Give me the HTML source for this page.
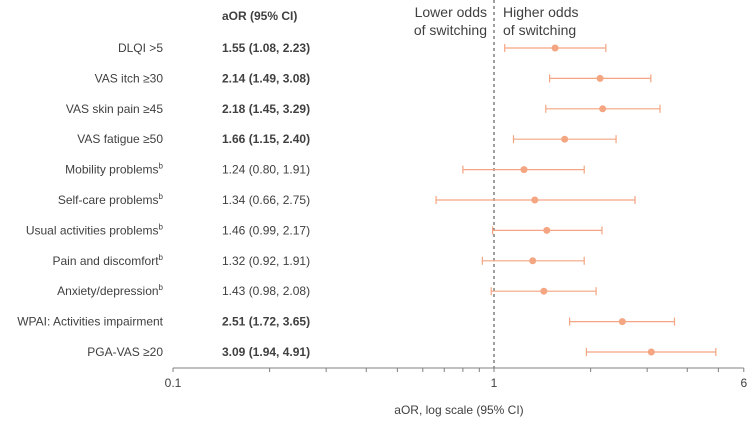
<!DOCTYPE html>
<html><head><meta charset="utf-8"><style>
body{margin:0;background:#fff;font-family:"Liberation Sans",sans-serif;}
svg text{font-family:"Liberation Sans",sans-serif;fill:#404040;}
</style></head><body>
<svg id="c" width="750" height="421" xmlns="http://www.w3.org/2000/svg">
<text x="222" y="20" font-size="12" font-weight="bold">aOR (95% CI)</text>
<text x="487" y="17" font-size="14" text-anchor="end"><tspan x="487">Lower odds</tspan><tspan x="487" dy="18">of switching</tspan></text>
<text x="503" y="17" font-size="14"><tspan x="503">Higher odds</tspan><tspan x="503" dy="18">of switching</tspan></text>
<g id="rows"></g>
<text x="459" y="414" font-size="12" text-anchor="middle">aOR, log scale (95% CI)</text>
</svg>
<script>
const labels=["DLQI >5","VAS itch \u226530","VAS skin pain \u226545","VAS fatigue \u226550","Mobility problems","Self-care problems","Usual activities problems","Pain and discomfort","Anxiety/depression","WPAI: Activities impairment","PGA-VAS \u226520"];
const sup=[0,0,0,0,1,1,1,1,1,0,0];
const est=[1.55,2.14,2.18,1.66,1.24,1.34,1.46,1.32,1.43,2.51,3.09];
const lo=[1.08,1.49,1.45,1.15,0.80,0.66,0.99,0.92,0.98,1.72,1.94];
const hi=[2.23,3.08,3.29,2.40,1.91,2.75,2.17,1.91,2.08,3.65,4.91];
const sig=[1,1,1,1,0,0,0,0,0,1,1];
const ticks=[0.1,0.2,0.3,0.4,0.5,0.6,0.7,0.8,0.9,1,2,3,4,5,6];
const tickLabels=["0.1","1","6"];
const svg=document.getElementById('c'),g=document.getElementById('rows');
const NS="http://www.w3.org/2000/svg";
const X=v=>494+321*Math.log10(v);
const Y=i=>48+i*30.4;
function mk(t,a,p){const e=document.createElementNS(NS,t);for(const k in a)e.setAttribute(k,a[k]);(p||g).appendChild(e);return e;}
const f=v=>v.toFixed(2);
let d=mk('line',{x1:494,x2:494,y1:0,y2:368,stroke:'#404040','stroke-dasharray':'3,3'});


labels.forEach((l,i)=>{
  const y=Y(i);
  const t=mk('text',{x:163,y:y+4,'font-size':12,'text-anchor':'end'});
  
  
  t.textContent=l;
  if(sup[i]){const s=mk('tspan',{dy:-5,'font-size':8},t);s.textContent='b';}
  const v=mk('text',{x:222,y:y+4,'font-size':12,'font-weight':sig[i]?'bold':'normal'});
  
  
  v.textContent=f(est[i])+' ('+f(lo[i])+', '+f(hi[i])+')';
  const c='#f4a582';
  let e=mk('line',{x1:X(lo[i]),x2:X(hi[i]),y1:y,y2:y,stroke:c,'stroke-width':1.2});
  
  
  [lo[i],hi[i]].forEach(q=>{let cap=mk('line',{x1:X(q),x2:X(q),y1:y-4,y2:y+4,stroke:c,'stroke-width':1.2});
    
    });
  const p=mk('circle',{cx:X(est[i]),cy:y,r:3.5,fill:c});
  
  
});
let ax=mk('line',{x1:X(0.1),x2:X(6),y1:368,y2:368,stroke:'#808080'});


ticks.forEach(t=>{let k=mk('line',{x1:X(t),x2:X(t),y1:368,y2:372,stroke:'#808080'});
  
  });
tickLabels.forEach(s=>{let k=mk('text',{x:X(+s),y:387,'font-size':12,'text-anchor':'middle'});
  
  
  k.textContent=s;});
</script>
</body></html>
